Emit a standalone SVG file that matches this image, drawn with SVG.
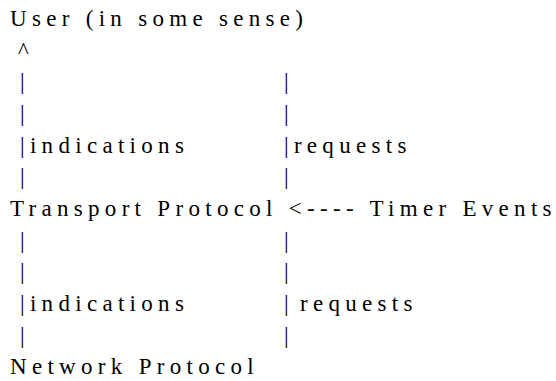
<svg xmlns="http://www.w3.org/2000/svg" width="556" height="381" viewBox="0 0 556 381">
  <style>
    text { fill: #000; letter-spacing: 5.3px; }
  </style>
  <rect width="556" height="381" fill="#fff"/>

  <g id="user">
    <text x="10" y="26" font-family="Liberation Serif" font-size="23">User (in some sense)</text>
  </g>

  <g id="connectors">
    <text x="18" y="57.7" font-family="Liberation Serif" font-size="23">^</text>
    <text x="20" y="89.3" font-family="Liberation Serif" font-size="23">|</text>
    <text x="20" y="121" font-family="Liberation Serif" font-size="23">|</text>
    <text x="20" y="152.7" font-family="Liberation Serif" font-size="23">|indications</text>
    <text x="20" y="184.3" font-family="Liberation Serif" font-size="23">|</text>
    <text x="284" y="89.3" font-family="Liberation Serif" font-size="23">|</text>
    <text x="284" y="121" font-family="Liberation Serif" font-size="23">|</text>
    <text x="284" y="152.7" font-family="Liberation Serif" font-size="23">|requests</text>
    <text x="284" y="184.3" font-family="Liberation Serif" font-size="23">|</text>
    <text x="20" y="247.7" font-family="Liberation Serif" font-size="23">|</text>
    <text x="20" y="279.3" font-family="Liberation Serif" font-size="23">|</text>
    <text x="20" y="311" font-family="Liberation Serif" font-size="23">|indications</text>
    <text x="20" y="342.7" font-family="Liberation Serif" font-size="23">|</text>
    <text x="284" y="247.7" font-family="Liberation Serif" font-size="23">|</text>
    <text x="284" y="279.3" font-family="Liberation Serif" font-size="23">|</text>
    <text x="284" y="311" font-family="Liberation Serif" font-size="23">|</text>
    <text x="300" y="311" font-family="Liberation Serif" font-size="23" letter-spacing="4">requests</text>
    <text x="284" y="342.7" font-family="Liberation Serif" font-size="23">|</text>
  </g>

  <g id="transport">
    <text x="10" y="216" font-family="Liberation Serif" font-size="23">Transport Protocol &lt;---- Timer Events</text>
  </g>

  <g id="network">
    <text x="10" y="374.3" font-family="Liberation Serif" font-size="23" letter-spacing="4.6">Network Protocol</text>
  </g>
</svg>
